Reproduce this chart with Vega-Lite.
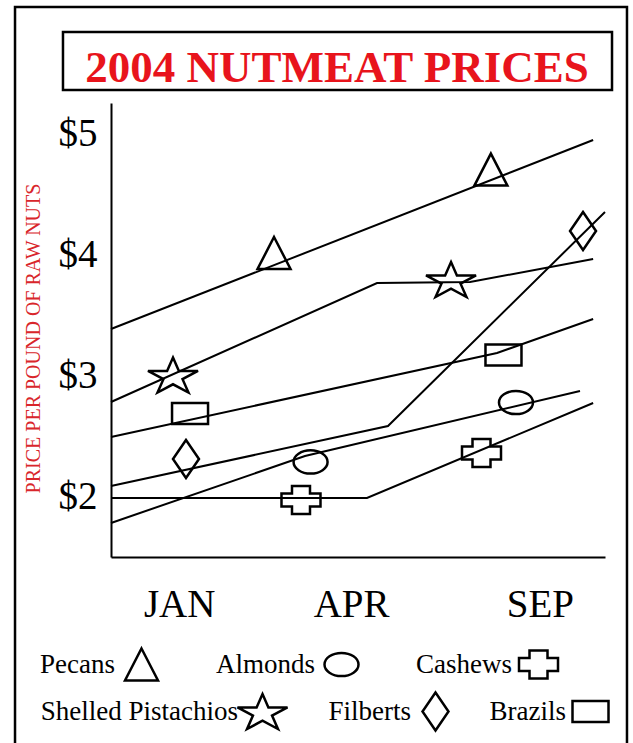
{
  "$schema": "https://vega.github.io/schema/vega-lite/v6.json",
  "width": 494,
  "height": 454,
  "autosize": {"type": "none"},
  "padding": {"left": 111, "top": 103, "right": 28, "bottom": 186},
  "background": "white",
  "config": {
    "view": {"stroke": null},
    "font": "Liberation Serif",
    "axisX": {"labelFont": "Liberation Serif", "labelFontSize": 39, "labelColor": "black", "labelPadding": 28, "labelBaseline": "top", "labelOverlap": false, "labelFlush": false, "ticks": false, "tickSize": 0, "domainColor": "black", "domainWidth": 2, "grid": false},
    "axisY": {"titleColor": "#d9262b", "titleFont": "Liberation Serif", "titleFontSize": 20, "titleFontWeight": "normal", "titleX": -78, "titleY": 235, "titleAngle": -90, "titleAlign": "center", "titleBaseline": "middle", "labelFont": "Liberation Serif", "labelFontSize": 39, "labelColor": "black", "labelPadding": 14, "labelBaseline": "middle", "labelOverlap": false, "labelFlush": false, "ticks": false, "tickSize": 0, "domainColor": "black", "domainWidth": 2, "grid": false}
  },
  "datasets": {
    "lines": [
      {"nut": "Pecans", "t": 0, "price": 3.383},
      {"nut": "Pecans", "t": 9.76, "price": 4.944},
      {"nut": "Shelled Pistachios", "t": 0, "price": 2.78},
      {"nut": "Shelled Pistachios", "t": 5.385, "price": 3.763},
      {"nut": "Shelled Pistachios", "t": 7.267, "price": 3.771},
      {"nut": "Shelled Pistachios", "t": 9.76, "price": 3.961},
      {"nut": "Brazils", "t": 0, "price": 2.491},
      {"nut": "Brazils", "t": 7.814, "price": 3.185},
      {"nut": "Brazils", "t": 9.76, "price": 3.466},
      {"nut": "Filberts", "t": 0, "price": 2.086},
      {"nut": "Filberts", "t": 5.607, "price": 2.582},
      {"nut": "Filberts", "t": 10.0, "price": 4.35},
      {"nut": "Almonds", "t": 0, "price": 1.781},
      {"nut": "Almonds", "t": 3.927, "price": 2.334},
      {"nut": "Almonds", "t": 9.494, "price": 2.871},
      {"nut": "Cashews", "t": 0, "price": 1.987},
      {"nut": "Cashews", "t": 5.182, "price": 1.987},
      {"nut": "Cashews", "t": 9.76, "price": 2.772}
    ],
    "markers": [
      {"nut": "Pecans", "t": 3.30, "price": 4.011},
      {"nut": "Pecans", "t": 7.69, "price": 4.70},
      {"nut": "Shelled Pistachios", "t": 1.255, "price": 3.003},
      {"nut": "Shelled Pistachios", "t": 6.883, "price": 3.792},
      {"nut": "Brazils", "t": 1.60, "price": 2.685},
      {"nut": "Brazils", "t": 7.945, "price": 3.168},
      {"nut": "Filberts", "t": 1.518, "price": 2.309},
      {"nut": "Filberts", "t": 9.555, "price": 4.193},
      {"nut": "Almonds", "t": 4.04, "price": 2.285},
      {"nut": "Almonds", "t": 8.198, "price": 2.776},
      {"nut": "Cashews", "t": 3.846, "price": 1.971},
      {"nut": "Cashews", "t": 7.50, "price": 2.359}
    ]
  },
  "layer": [
    {
      "data": {"values": [{}]},
      "mark": {"type": "rect", "fill": "transparent", "stroke": "black", "strokeWidth": 2.5, "clip": false},
      "encoding": {
        "x": {"datum": -1.943, "type": "quantitative", "scale": {"domain": [0, 10]}, "axis": {"values": [1.38, 4.86, 8.68], "labelExpr": "datum.value < 3 ? 'JAN' : datum.value < 6 ? 'APR' : 'SEP'", "title": null}},
        "x2": {"datum": 10.445},
        "y": {"datum": 6.043, "type": "quantitative", "scale": {"domain": [1.5, 5.25]}, "axis": {"values": [2, 3, 4, 5], "labelExpr": "'$' + datum.value", "title": "PRICE PER POUND OF RAW NUTS"}},
        "y2": {"datum": -0.094}
      }
    },
    {
      "data": {"values": [{}]},
      "mark": {"type": "rect", "fill": "transparent", "stroke": "black", "strokeWidth": 2.5, "clip": false},
      "encoding": {
        "x": {"datum": -0.972, "type": "quantitative", "scale": {"domain": [0, 10]}, "axis": {"values": [1.38, 4.86, 8.68], "labelExpr": "datum.value < 3 ? 'JAN' : datum.value < 6 ? 'APR' : 'SEP'", "title": null}},
        "x2": {"datum": 10.142},
        "y": {"datum": 5.836, "type": "quantitative", "scale": {"domain": [1.5, 5.25]}, "axis": {"values": [2, 3, 4, 5], "labelExpr": "'$' + datum.value", "title": "PRICE PER POUND OF RAW NUTS"}},
        "y2": {"datum": 5.357}
      }
    },
    {
      "data": {"values": [{"title": "2004 NUTMEAT PRICES"}]},
      "mark": {"type": "text", "font": "Liberation Serif", "fontSize": 45, "fontWeight": "bold", "color": "#e8141c", "align": "center", "baseline": "alphabetic", "clip": false},
      "encoding": {
        "text": {"field": "title"},
        "x": {"datum": 4.575, "type": "quantitative", "scale": {"domain": [0, 10]}, "axis": {"values": [1.38, 4.86, 8.68], "labelExpr": "datum.value < 3 ? 'JAN' : datum.value < 6 ? 'APR' : 'SEP'", "title": null}},
        "y": {"datum": 5.423, "type": "quantitative", "scale": {"domain": [1.5, 5.25]}, "axis": {"values": [2, 3, 4, 5], "labelExpr": "'$' + datum.value", "title": "PRICE PER POUND OF RAW NUTS"}}
      }
    },
    {
      "data": {"name": "lines"},
      "mark": {"type": "line", "color": "black", "strokeWidth": 2},
      "encoding": {
        "x": {"field": "t", "type": "quantitative", "scale": {"domain": [0, 10]}, "axis": {"values": [1.38, 4.86, 8.68], "labelExpr": "datum.value < 3 ? 'JAN' : datum.value < 6 ? 'APR' : 'SEP'", "title": null}},
        "y": {"field": "price", "type": "quantitative", "scale": {"domain": [1.5, 5.25]}, "axis": {"values": [2, 3, 4, 5], "labelExpr": "'$' + datum.value", "title": "PRICE PER POUND OF RAW NUTS"}},
        "detail": {"field": "nut"}
      }
    },
    {
      "data": {"name": "markers"},
      "transform": [{"filter": {"field": "nut", "oneOf": ["Pecans", "Almonds", "Cashews"]}}],
      "mark": {"type": "point", "filled": false, "stroke": "black", "strokeWidth": 2.5, "size": 1600, "opacity": 1},
      "encoding": {
        "x": {"field": "t", "type": "quantitative", "scale": {"domain": [0, 10]}, "axis": {"values": [1.38, 4.86, 8.68], "labelExpr": "datum.value < 3 ? 'JAN' : datum.value < 6 ? 'APR' : 'SEP'", "title": null}},
        "y": {"field": "price", "type": "quantitative", "scale": {"domain": [1.5, 5.25]}, "axis": {"values": [2, 3, 4, 5], "labelExpr": "'$' + datum.value", "title": "PRICE PER POUND OF RAW NUTS"}},
        "shape": {"field": "nut", "type": "nominal",
          "scale": {"domain": ["Pecans", "Almonds", "Cashews"], "range": [
            "M0,-0.8L0.825,0.8L-0.825,0.8Z",
            "M-0.85,0A0.85,0.58,0,1,0,0.85,0A0.85,0.58,0,1,0,-0.85,0Z",
            "M-0.45,-0.7L0.45,-0.7L0.45,-0.33L0.975,-0.33L0.975,0.33L0.45,0.33L0.45,0.7L-0.45,0.7L-0.45,0.33L-0.975,0.33L-0.975,-0.33L-0.45,-0.33Z"
          ]},
          "legend": {"orient": "none", "legendX": 9, "legendY": 540, "direction": "horizontal", "columns": 3, "gridAlign": "none", "title": null, "labelAlign": "right", "labelOffset": -48, "labelFont": "Liberation Serif", "labelFontSize": 27, "labelColor": "black", "labelLimit": 400, "symbolSize": 1600, "symbolStrokeWidth": 2.5, "symbolStrokeColor": "black", "symbolFillColor": "transparent", "symbolOpacity": 1, "columnPadding": 52}
        }
      }
    },
    {
      "data": {"name": "markers"},
      "transform": [{"filter": {"field": "nut", "oneOf": ["Shelled Pistachios", "Filberts", "Brazils"]}}],
      "mark": {"type": "point", "filled": false, "stroke": "black", "strokeWidth": 2.5, "size": 1600, "opacity": 1},
      "encoding": {
        "x": {"field": "t", "type": "quantitative", "scale": {"domain": [0, 10]}, "axis": {"values": [1.38, 4.86, 8.68], "labelExpr": "datum.value < 3 ? 'JAN' : datum.value < 6 ? 'APR' : 'SEP'", "title": null}},
        "y": {"field": "price", "type": "quantitative", "scale": {"domain": [1.5, 5.25]}, "axis": {"values": [2, 3, 4, 5], "labelExpr": "'$' + datum.value", "title": "PRICE PER POUND OF RAW NUTS"}},
        "shape": {"field": "nut", "type": "nominal",
          "scale": {"domain": ["Shelled Pistachios", "Filberts", "Brazils"], "range": [
            "M0,-0.875L0.295,-0.206L1.25,-0.206L0.477,0.206L0.773,0.875L0,0.462L-0.773,0.875L-0.477,0.206L-1.25,-0.206L-0.295,-0.206Z",
            "M0,-0.95L0.65,0L0,0.95L-0.65,0Z",
            "M-0.9,-0.525L0.9,-0.525L0.9,0.525L-0.9,0.525Z"
          ]},
          "legend": {"orient": "none", "legendX": 130, "legendY": 587, "direction": "horizontal", "columns": 3, "gridAlign": "none", "title": null, "labelAlign": "right", "labelOffset": -46, "labelFont": "Liberation Serif", "labelFontSize": 27, "labelColor": "black", "labelLimit": 400, "symbolSize": 1600, "symbolStrokeWidth": 2.5, "symbolStrokeColor": "black", "symbolFillColor": "transparent", "symbolOpacity": 1, "columnPadding": 35}
        }
      }
    }
  ],
  "resolve": {"scale": {"shape": "independent"}, "legend": {"shape": "independent"}}
}
